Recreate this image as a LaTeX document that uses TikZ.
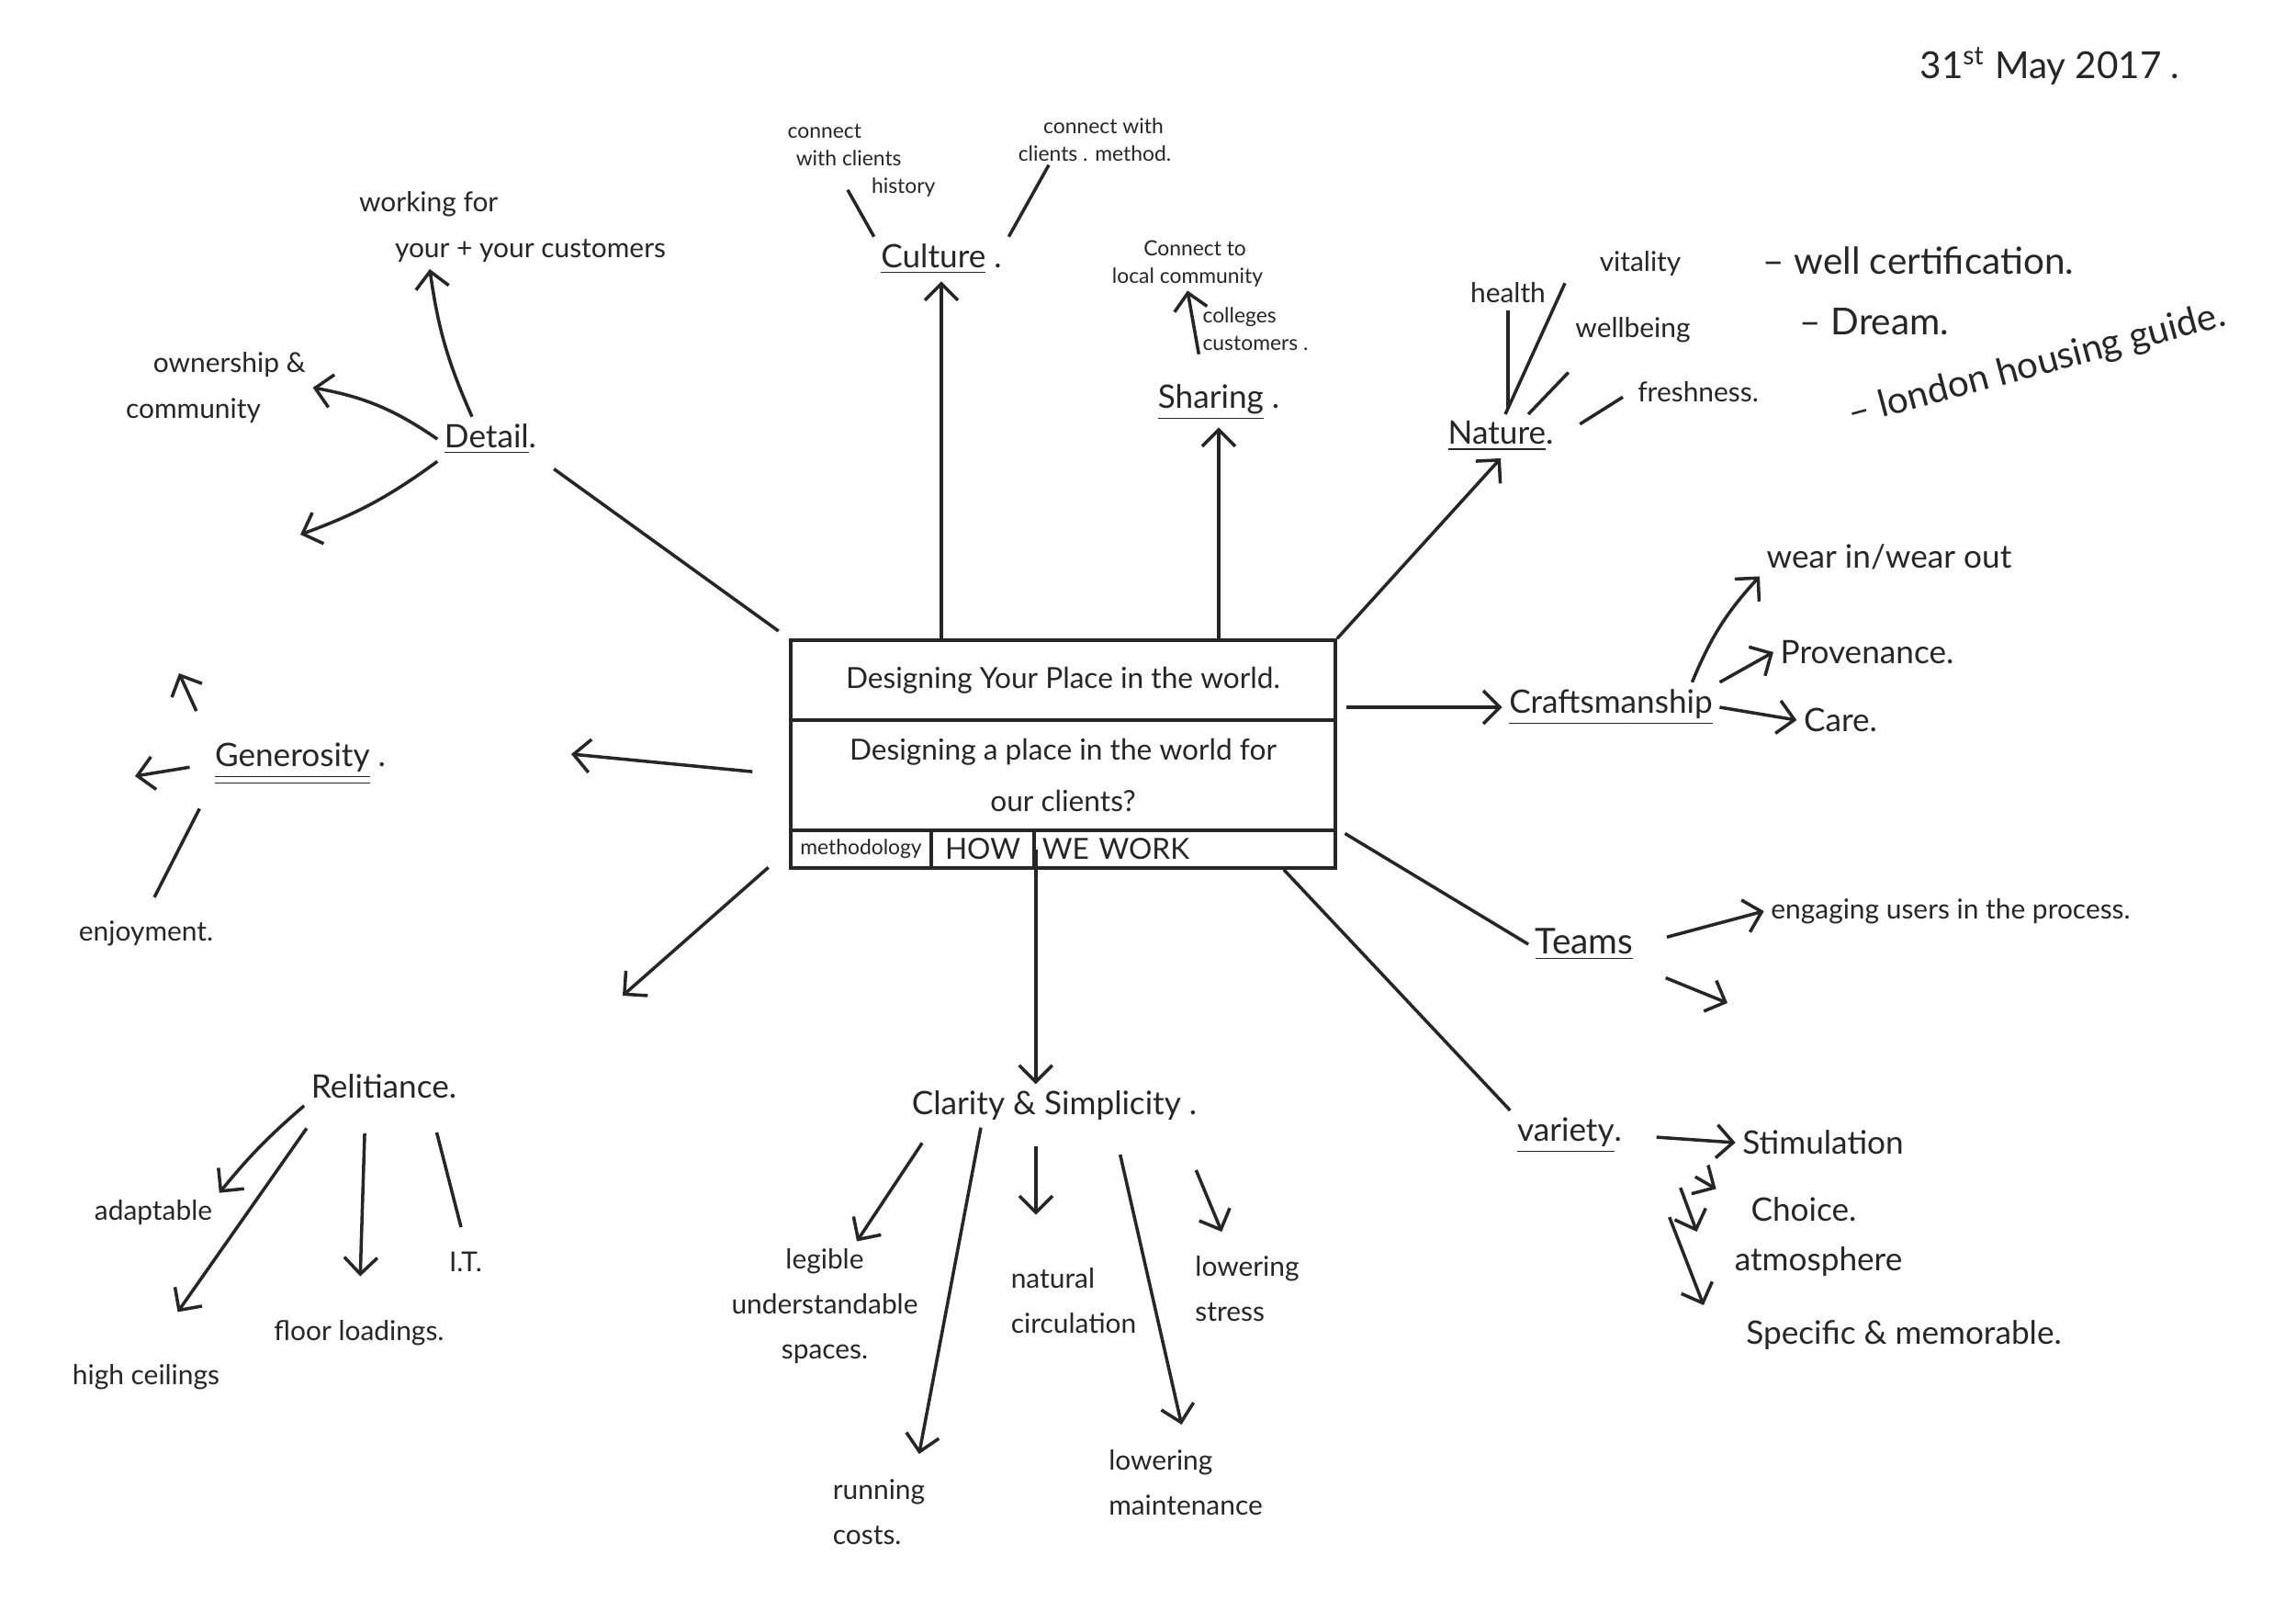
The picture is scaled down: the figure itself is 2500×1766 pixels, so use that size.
\documentclass[tikz,border=0pt]{standalone}
\usepackage{fontspec}
\setmainfont{Lato}
\usetikzlibrary{arrows.meta,calc,positioning}
\colorlet{mapInk}{black!85}
\tikzset{
  mapbox/.style={
    rectangle, draw=mapInk, line width=1pt, text=mapInk,
    inner xsep=2pt, inner ysep=1pt, align=center,
    font=\fontsize{9}{11}\selectfont
  },
  maphead/.style={inner sep=2pt, align=center, text=mapInk, font=\fontsize{10}{12}\selectfont},
  maptext/.style={inner sep=2pt, align=left, text=mapInk, font=\fontsize{8.5}{14}\selectfont},
  mapsmall/.style={inner sep=1pt, align=left, text=mapInk, font=\fontsize{6.5}{8.5}\selectfont},
  mapbig/.style={inner sep=2pt, text=mapInk, font=\fontsize{11.5}{13}\selectfont},
  maparrow/.style={-{Straight Barb[length=1.8mm,width=3.6mm]}, line width=1pt, draw=mapInk},
  mapline/.style={line width=1pt, draw=mapInk}
}

\begin{document}
\begin{tikzpicture}[x=0.01cm,y=-0.01cm]
  \fill[white] (0,0) rectangle (2500,1766);

  % centre box
  \node[mapbox, minimum width=5.93cm, minimum height=0.87cm] (title) at (1157.5,740.5)
    {Designing Your Place in the world.};
  \node[mapbox, minimum width=5.93cm, minimum height=1.20cm, font=\fontsize{9}{16}\selectfont] (quest) at (1157.5,844)
    {Designing a place in the world for\\our clients?};
  \node[mapbox, minimum width=1.53cm, minimum height=0.41cm, font=\fontsize{6.5}{8}\selectfont] (meth) at (937.5,924.5)
    {methodology};
  \node[mapbox, minimum width=1.12cm, minimum height=0.41cm] (how) at (1070,924.5) {HOW};
  \node[mapbox, minimum width=3.28cm, minimum height=0.41cm, text width=3.1cm, align=left] (wework) at (1290,924.5)
    {WE WORK};

  \node[mapbig] (date) at (2232,72) {31\textsuperscript{st} May 2017 .};

  % detail
  \node[maphead] (detail) at (534,478) {\underline{Detail}.};
  \node[maptext] (working) at (558,247) {working for\\\hspace{1.3em}your + your customers};
  \node[maptext] (owner) at (235,422) {\hspace{1em}ownership \&\\community};
  \coordinate (detailsw) at (327,582);

  % culture
  \node[maphead] (culture) at (1025,282) {\underline{Culture} .};
  \node[mapsmall] (history) at (938,175) {connect\\\hspace{0.4em}with clients\\\hspace{4em}history};
  \node[mapsmall] (method) at (1192,152) {\hspace{1.2em}connect with\\clients . method.};

  % sharing
  \node[maphead] (sharing) at (1327,438) {\underline{Sharing} .};
  \node[mapsmall] (local) at (1293,287) {\hspace{1.5em}Connect to\\local community};
  \node[mapsmall] (colleg) at (1367,358) {colleges\\customers .};

  % nature
  \node[maphead] (nature) at (1634,475) {\underline{Nature}.};
  \node[maptext] (health) at (1642,319) {health};
  \node[maptext] (vitality) at (1786,287) {vitality};
  \node[maptext] (wellbeing) at (1778,359) {wellbeing};
  \node[maptext] (fresh) at (1849,427) {freshness.};
  \node[mapbig] (wellcert) at (2089,284) {– well certification.};
  \node[mapbig] (dream) at (2041,350) {– Dream.};
  \node[mapbig, rotate=15] (london) at (2218,398) {– london housing guide.};

  % craftsmanship
  \node[maphead] (crafts) at (1754,770) {\underline{Craftsmanship}};
  \node[maphead] (wear) at (2057,606) {wear in/wear out};
  \node[maphead] (proven) at (2033,710) {Provenance.};
  \node[maphead] (care) at (2004,784) {Care.};

  % teams
  \node[maphead, font=\fontsize{11}{13}\selectfont] (teams) at (1725,1028) {\underline{Teams}};
  \node[maptext] (engage) at (2124,992) {engaging users in the process.};
  \coordinate (teamsse) at (1881,1092);

  % variety
  \node[maphead] (variety) at (1709,1236) {\underline{variety}.};
  \node[maphead] (stim) at (1985,1244) {Stimulation};
  \node[maphead] (choice) at (1964,1317) {Choice.};
  \node[maphead] (atmos) at (1980,1374) {atmosphere};
  \node[maphead] (specific) at (2073,1454) {Specific \& memorable.};

  % clarity
  \node[maphead] (clarity) at (1148,1204) {Clarity \& Simplicity .};
  \node[maptext, align=center] (legible) at (898,1422) {legible\\understandable\\spaces.};
  \node[maptext] (running) at (957,1646) {running\\costs.};
  \node[maptext] (natural) at (1169,1416) {natural\\circulation};
  \node[maptext] (lowmaint) at (1291,1614) {lowering\\maintenance};
  \node[maptext] (lowstress) at (1358,1403) {lowering\\stress};

  % relitiance
  \node[maphead] (relit) at (418,1183) {Relitiance.};
  \node[maptext] (adapt) at (167,1320) {adaptable};
  \node[maptext] (ceil) at (159,1499) {high ceilings};
  \node[maptext] (floor) at (391,1451) {floor loadings.};
  \node[maptext] (it) at (507,1374) {I.T.};
  \coordinate (relitne) at (678,1084);

  % generosity
  \node[maphead] (gener) at (327,832) {\underline{\underline{Generosity}} .};
  \node[maptext] (enjoy) at (159,1016) {enjoyment.};
  \coordinate (generw) at (147,845);
  \coordinate (genern) at (195,733);
  \coordinate (generin) at (622,821);

  % connectors
  \draw[mapline, shorten <=4pt, shorten >=4pt] (detail.south east) -- (title.north west);
  \draw[maparrow] ([xshift=-0.2cm]detail.north) to[bend left=8] ([xshift=-0.9cm]working.south);
  \draw[maparrow] (detail.west) to[bend right=12] (owner.east);
  \draw[maparrow] (detail.south west) to[bend left=8] (detailsw);

  \draw[maparrow] (title.north -| culture.south) -- (culture.south);
  \draw[mapline] (culture.north west) -- ([xshift=-0.15cm,yshift=0.12cm]history.south);
  \draw[mapline] (culture.north east) -- ([xshift=-0.5cm]method.south);

  \draw[maparrow] (title.north -| sharing.south) -- (sharing.south);
  \draw[maparrow] (colleg.south west) -- (local.south);

  \draw[maparrow] (title.north east) -- (nature.south);
  \draw[mapline, shorten <=2pt] (health.south |- nature.north) -- (health.south);
  \draw[mapline] ([xshift=0.05cm]nature.north) -- ([xshift=-0.3cm]vitality.south west);
  \draw[mapline] ([xshift=0.3cm]nature.north) -- ([yshift=-0.25cm]wellbeing.south west);
  \draw[mapline, shorten <=0.25cm, shorten >=0.1cm] (nature.east) -- (fresh.west);

  \draw[maparrow, shorten <=0.1cm] (crafts.west -| title.east) -- (crafts.west);
  \draw[maparrow] (crafts.east) -- (care.west);
  \draw[maparrow] (crafts.north east) -- (proven.west);
  \draw[maparrow] ([xshift=-0.3cm]crafts.north east) to[bend left=10] (wear.south west);

  \draw[mapline, shorten <=0.1cm] (wework.north east) -- (teams.west);
  \draw[maparrow, shorten <=0.3cm] (teams.east) -- (engage.west);
  \draw[maparrow, shorten <=0.3cm] (teams.south east) -- (teamsse);

  \draw[mapline] ($(wework.south)!0.65!(wework.south east)$) -- (variety.north west);
  \draw[maparrow, shorten <=0.3cm] (variety.east) -- (stim.west);
  \draw[maparrow, shorten >=0.35cm] ([xshift=0.72cm,yshift=-0.18cm]variety.south east) -- ([yshift=0.05cm]choice.west);
  \draw[maparrow, shorten >=0.1cm] ([xshift=0.56cm,yshift=-0.3cm]variety.south east) -- ([xshift=-0.3cm]atmos.north west);
  \draw[maparrow, shorten >=0.1cm] ([xshift=0.44cm,yshift=-0.62cm]variety.south east) -- ([xshift=-0.35cm]specific.north west);

  \draw[maparrow] (how.east) -- (how.east |- clarity.north);
  \draw[maparrow, shorten <=0.2cm] ([xshift=0.3cm]clarity.south west) -- ([xshift=0.35cm]legible.north);
  \draw[maparrow, shorten >=0.2cm] ([xshift=-0.8cm]clarity.south) -- ([xshift=0.4cm]running.north);
  \draw[maparrow, shorten <=0.2cm, shorten >=0.5cm] ([xshift=-0.2cm]clarity.south) -- ([xshift=-0.2cm]clarity.south |- natural.north);
  \draw[maparrow, shorten <=0.3cm, shorten >=0.2cm] ([xshift=0.65cm]clarity.south) -- (lowmaint.north);
  \draw[maparrow, shorten <=0.5cm, shorten >=0.2cm] ([xshift=1.35cm]clarity.south) -- ([xshift=-0.2cm]lowstress.north);

  \draw[maparrow, shorten <=0.3cm] (meth.west) -- (relitne);
  \draw[maparrow] (relit.south west) to[bend right=5] (adapt.north east);
  \draw[maparrow, shorten <=0.3cm, shorten >=0.6cm] ([xshift=0.2cm]relit.south west) -- (ceil.north);
  \draw[maparrow, shorten <=0.3cm, shorten >=0.4cm] ([xshift=-0.2cm]relit.south) -- (floor.north);
  \draw[mapline, shorten <=0.3cm, shorten >=0.2cm] ([xshift=0.5cm]relit.south) -- (it.north);

  \draw[maparrow, shorten <=0.4cm] (quest.west) -- (generin);
  \draw[maparrow, shorten <=0.2cm] (gener.west) -- (generw);
  \draw[maparrow, shorten <=0.3cm] (gener.north west) -- (genern);
  \draw[mapline, shorten <=0.2cm, shorten >=0.2cm] (gener.south west) -- (enjoy.north);
\end{tikzpicture}
\end{document}
